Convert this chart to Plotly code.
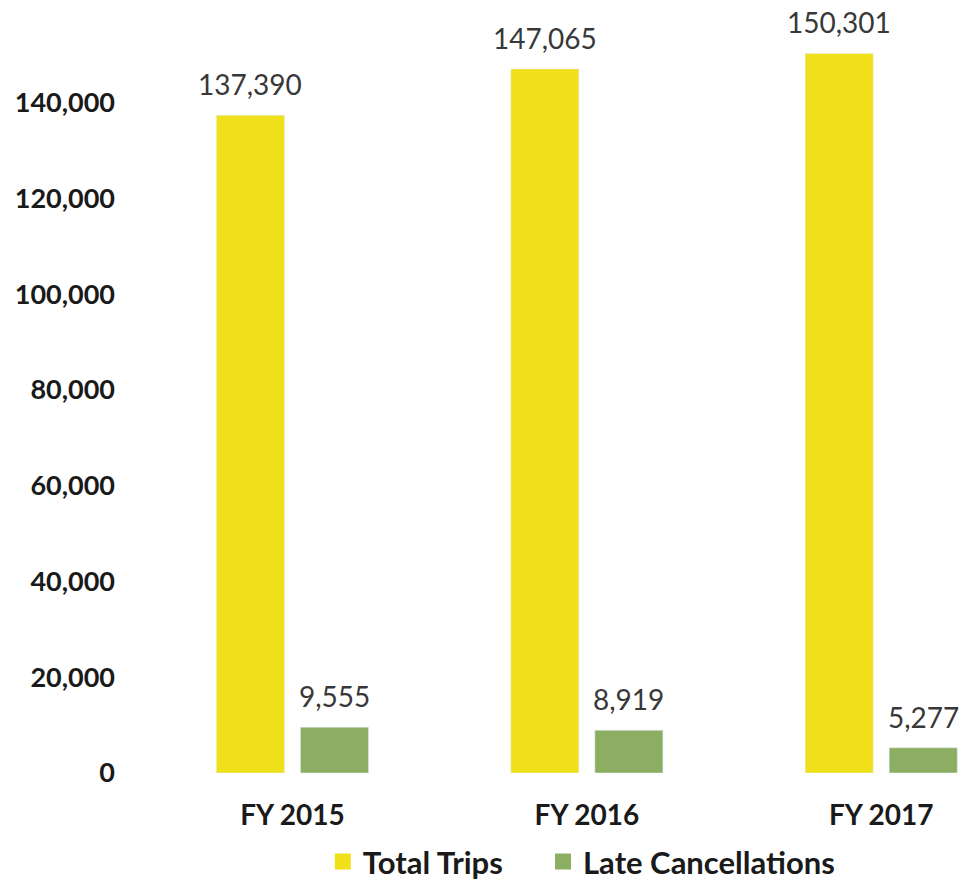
import plotly.graph_objects as go

# Trip volume vs. late cancellations by fiscal year
years = ["FY 2015", "FY 2016", "FY 2017"]
total_trips = [137390, 147065, 150301]
late_cancellations = [9555, 8919, 5277]
y_ticks = [0, 20000, 40000, 60000, 80000, 100000, 120000, 140000]

yellow = "#EFE01A"
green = "#8BAE62"
font_family = "Lato, 'Open Sans', sans-serif"

fig = go.Figure()
fig.add_trace(go.Bar(x=years, y=total_trips, name="Total Trips",
                     marker_color=yellow, showlegend=False))
fig.add_trace(go.Bar(x=years, y=late_cancellations, name="Late Cancellations",
                     marker_color=green, showlegend=False))

# legend swatches drawn as larger squares, one legend box per series
for name, col, leg in [("Total Trips", yellow, "legend"),
                       ("Late Cancellations", green, "legend2")]:
    fig.add_trace(go.Scatter(x=[None], y=[None], mode="markers", name=name,
                             legend=leg,
                             marker=dict(symbol="square", size=18, color=col)))

# value labels above each bar
slot_px = 42
for vals, shift in [(total_trips, -slot_px), (late_cancellations, slot_px)]:
    for yr, v in zip(years, vals):
        fig.add_annotation(x=yr, y=v, text=f"{v:,}", showarrow=False,
                           xshift=shift, yshift=12, yanchor="bottom",
                           font=dict(family=font_family, size=28, color="#383838"))

legend_font = dict(size=31, color="#1a1a1a", family=font_family, weight="bold")
fig.update_layout(
    width=961, height=881,
    margin=dict(l=130, r=0, t=7, b=108, autoexpand=False),
    paper_bgcolor="white", plot_bgcolor="white",
    barmode="group", bargap=0.429, bargroupgap=0.19,
    font=dict(family=font_family),
    legend=dict(orientation="h", x=0.232, xanchor="left", y=-0.116,
                yanchor="middle", font=legend_font, itemsizing="trace"),
    legend2=dict(orientation="h", x=0.497, xanchor="left", y=-0.116,
                 yanchor="middle", font=legend_font, itemsizing="trace"),
)
fig.update_xaxes(range=[-0.552, 2.271], showgrid=False, showline=False,
                 zeroline=False, ticks="", ticklabelstandoff=23, automargin=False,
                 tickfont=dict(size=28, color="#1a1a1a", family=font_family,
                               weight="bold"))
fig.update_yaxes(range=[0, 160000], tickvals=y_ticks, tickformat=",d",
                 showgrid=False, zeroline=False, showline=False, ticks="",
                 ticklabelstandoff=14, automargin=False,
                 tickfont=dict(size=27, color="#1a1a1a", family=font_family,
                               weight="bold"))

fig.write_html("out.html")
